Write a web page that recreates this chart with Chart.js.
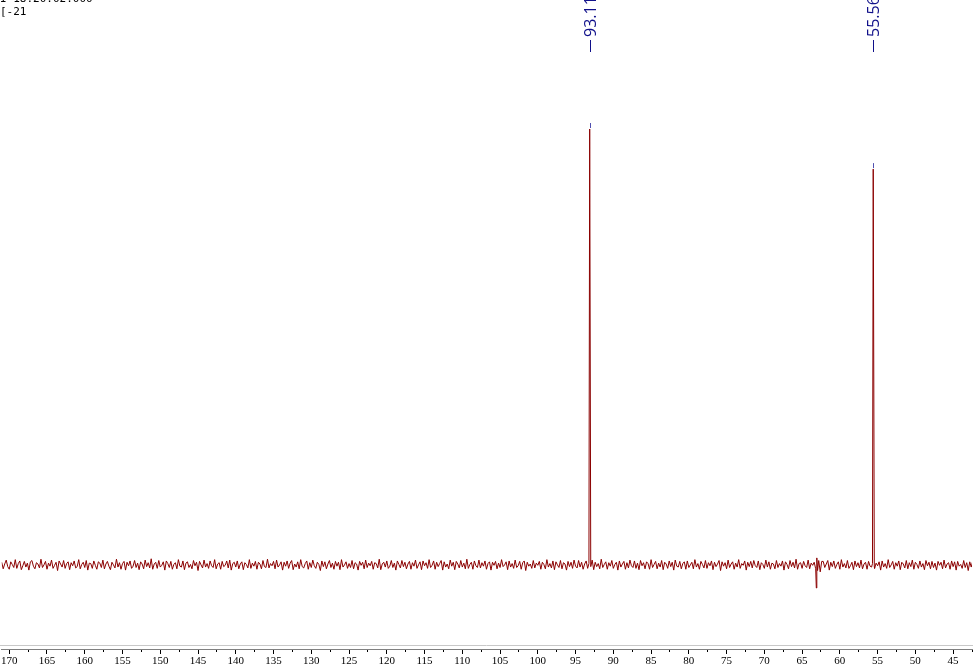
<!DOCTYPE html>
<html>
<head>
<meta charset="utf-8">
<script src="https://cdn.jsdelivr.net/npm/chart.js@4/dist/chart.umd.min.js"></script>
<style>
  html, body { margin: 0; padding: 0; background: #fff; overflow: hidden; }
  #wrap { position: relative; width: 973px; height: 669px; }
  #info { position: absolute; left: 0; top: -8px; font: 11px "DejaVu Sans Mono", monospace; color: #000; line-height: 13px; white-space: pre; }
</style>
</head>
<body>
<div id="wrap">
  <canvas id="nmr"></canvas>
  <div id="info">I-18.20.02.000
[-21</div>
</div>
<script>
// spectrum sampling (ppm) for the baseline noise
const ppmStart = 171.0;
const ppmStep = 0.2;

// baseline noise (intensity units, 93.11 peak = 100)
const baseline = [
  0.6,-0.9,0.2,1.1,-0.4,-1.0,0.7,0.1,-0.6,1.2,-0.8,0.3,0.9,-1.1,-0.2,0.8,-0.5,0.4,-1.2,0.7,
  1.0,-0.3,-0.9,0.5,0.2,-0.7,1.3,-0.6,0.0,0.8,-1.0,0.4,-0.3,1.1,-0.8,-0.1,0.6,-1.3,0.9,0.2,
  -0.5,1.0,-0.8,0.3,0.7,-1.1,0.5,-0.2,0.9,-0.7,-0.4,1.2,-0.9,0.1,0.6,-0.6,1.0,-1.2,0.4,0.3,
  -0.8,0.9,-0.1,-1.0,0.7,0.4,-0.6,1.1,-0.9,0.2,0.8,-0.3,-1.1,0.6,0.0,-0.7,1.3,-0.5,0.5,-1.0,
  0.3,0.8,-1.2,0.6,-0.2,0.9,-0.8,-0.3,1.0,-0.6,0.4,-1.1,0.7,0.2,-0.9,1.1,-0.4,0.5,-0.7,1.4,
  -1.0,0.2,0.6,-0.8,1.0,-0.5,-0.1,0.7,-1.2,0.9,0.3,-0.6,0.8,-1.0,0.1,0.5,-0.9,1.2,-0.3,-0.5,
  0.9,-1.1,0.4,0.7,-0.6,0.1,-0.9,1.0,-0.2,0.6,-1.3,0.8,0.0,-0.7,1.1,-0.5,0.3,-0.8,0.9,-0.2,
  -0.6,1.2,-0.9,0.2,0.5,-1.0,0.8,-0.4,-0.1,0.9,-0.7,1.1,-1.2,0.3,0.6,-0.5,0.9,-0.9,0.2,0.7,
  -1.1,0.5,0.1,-0.7,1.2,-0.8,0.4,-0.3,0.8,-1.0,0.6,0.2,-0.9,1.0,-0.4,-0.6,1.3,-0.7,0.3,-0.2,
  0.8,-0.9,1.1,-0.5,0.0,0.7,-1.2,0.6,-0.3,0.9,-0.8,0.4,1.0,-1.1,0.2,-0.5,0.7,-0.9,1.2,-0.4,
  -0.7,0.3,0.9,-1.0,0.5,-0.6,1.1,-0.2,-0.8,0.6,0.1,-1.3,0.9,-0.4,0.7,-0.9,0.2,1.0,-0.6,0.4,
  -1.0,0.8,-0.3,0.6,-1.1,1.2,-0.5,0.0,0.7,-0.8,0.3,-0.6,1.0,-0.9,0.5,0.2,-1.2,0.8,-0.1,0.6,
  -0.9,1.1,-0.6,0.4,-0.2,0.8,-1.0,0.5,0.3,-0.7,1.3,-1.1,0.2,0.6,-0.5,0.9,-0.8,-0.3,1.0,-0.6,
  0.4,-1.2,0.9,0.1,-0.7,1.0,-0.4,0.6,-0.9,0.2,0.8,-1.0,0.5,-0.3,1.1,-0.8,0.0,0.7,-1.1,0.9,
  -0.2,0.5,-0.8,1.2,-0.6,-0.1,0.9,-1.0,0.6,-0.4,0.3,1.0,-1.2,0.7,-0.5,0.2,-0.9,1.1,-0.3,0.6,
  -1.1,0.8,0.2,-0.7,1.0,-0.5,0.4,-0.9,1.3,-0.8,0.1,0.6,-1.0,0.9,-0.2,-0.6,1.1,-0.7,0.5,-0.3,
  0.9,-1.0,0.3,0.7,-1.2,0.6,-0.1,0.8,-0.9,0.4,-0.6,1.2,-0.4,0.0,0.7,-1.1,0.9,-0.5,0.3,-0.8,
  1.1,-0.6,-0.2,0.8,-1.0,0.5,0.9,-1.3,0.6,-0.3,0.2,-0.8,1.0,-0.7,0.4,-0.1,0.8,-1.0,0.6,0.1,
  -0.9,1.2,-0.5,0.3,-0.7,0.9,-1.1,0.7,0.0,-0.6,1.0,-0.9,0.5,0.2,-1.2,0.8,-0.4,0.6,-0.8,1.1,
  -0.3,-0.7,1.0,-0.5,0.6,-1.0,0.2,0.9,-0.8,0.4,-0.2,1.1,-1.1,0.6,-0.4,0.3,-0.9,1.3,-0.6,0.1,
  0.7,-1.0,0.5,-0.3,1.0,-0.8,0.1,0.6,-1.2,0.9,-0.5,0.2,0.8,-1.0,0.5,-0.7,1.1,-0.2,-0.6,0.9,
  -0.8,0.4,-1.1,1.0,-0.2,0.5,-0.9,0.7,0.3,-1.0,1.2,-0.6,0.1,0.8,-0.9,0.4,-0.5,1.0,-1.1,0.6,
  0.2,-0.8,0.9,-0.4,0.6,-1.2,1.1,-0.3,-0.5,0.8,-0.9,0.3,0.7,-1.0,0.9,-0.6,0.0,0.6,-0.9,1.2,
  -0.5,0.3,-1.0,0.8,0.1,-0.7,1.0,-0.8,0.5,-0.2,0.9,-1.1,0.6,-0.4,0.2,1.0,-1.3,0.7,-0.3,0.5,
  -0.9,1.1,-0.6,0.2,0.7,-1.0,0.4,-0.5,1.2,-0.8,0.3,-0.1,0.9,-1.2,0.6,-0.4,0.8,-0.7,1.0,-0.2,
  -0.6,0.9,-1.1,0.5,0.1,-0.8,1.1,-0.5,0.7,-1.0,0.4,0.2,-0.9,1.0,-0.6,0.3,-0.3,0.9,-1.2,0.7,
  0.1,-0.9,1.0,-0.4,0.6,-0.7,1.3,-1.0,0.3,0.5,-0.8,0.8,-0.2,-0.6,1.1,-0.9,0.4,-0.1,0.7,-1.1,
  0.9,-0.3,0.5,-1.0,0.8,-0.6,0.2,1.0,-1.2,0.6,-0.4,0.9,-0.8,0.1,0.7,-1.0,1.2,-0.5,0.3,-0.7,
  1.0,-0.8,-0.2,0.6,-1.1,0.9,-0.4,0.5,-0.7,1.1,-0.9,0.2,0.6,-1.0,0.8,-0.3,-0.5,1.0,-0.8,0.4,
  -0.2,0.7,-1.2,0.9,-0.5,0.3,-0.8,1.2,-0.6,0.0,0.8,-1.0,0.5,-0.3,0.9,-1.1,0.6,0.2,-0.7,1.0,
  -0.9,0.5,-0.4,1.1,-1.0,0.6,0.1,-0.8,0.9,-0.5,0.3,-1.1,1.0,-0.2,0.6,-0.9,0.8,-0.6,0.4,-1.2,
  0.8,-0.1,0.6,-0.9,1.1,-0.7,0.2,0.5,-1.0,0.9,-0.4,0.7,-1.2,0.8,-0.3,0.1,-0.8,1.0,-0.6,0.5,
  -1.3,0.7,-0.5,0.9,-0.8,0.2,0.6,-1.1,1.0,-0.4,0.3,-0.9,0.8,-0.6,1.1,-1.0,0.4,-0.2,0.7,-0.9
];

// picked peaks
const peakPpm = [93.11, 55.56];
const peakHeight = [100, 90.8];
const peakLabels = ['93.11', '55.56'];

// small dispersive artefact near 63 ppm
const artefactPpm = [63.4, 63.2, 63.12, 63.05, 62.95, 62.8, 62.6, 62.4];
const artefactVal = [0.6, -0.9, -5.3, 1.6, -1.3, 1.0, -1.6, 0.8];

// build point list sorted by ppm; grid points inside a peak or artefact window are replaced
const inWindow = (x) =>
  (x <= artefactPpm[0] + 0.05 && x >= artefactPpm[artefactPpm.length - 1] - 0.05) ||
  peakPpm.some((p) => Math.abs(x - p) < 0.15);
const points = baseline
  .map((v, i) => ({ x: +(ppmStart - i * ppmStep).toFixed(2), y: v }))
  .filter((pt) => !inWindow(pt.x));
peakPpm.forEach((p, i) => {
  points.push({ x: p + 0.12, y: 0.3 }, { x: p + 0.02, y: peakHeight[i] }, { x: p - 0.02, y: peakHeight[i] }, { x: p - 0.12, y: -0.4 });
});
artefactPpm.forEach((p, i) => points.push({ x: p, y: artefactVal[i] }));
points.sort((a, b) => b.x - a.x);

const peakLabelPlugin = {
  id: 'peakLabels',
  afterDraw(chart) {
    const ctx = chart.ctx;
    const xs = chart.scales.x, ys = chart.scales.y;
    ctx.save();
    // light frame line above the axis
    ctx.strokeStyle = '#c8c8c8';
    ctx.lineWidth = 1;
    ctx.beginPath();
    ctx.moveTo(0, chart.chartArea.bottom - 3.5);
    ctx.lineTo(chart.width, chart.chartArea.bottom - 3.5);
    ctx.stroke();

    peakPpm.forEach((p, i) => {
      const px = Math.round(xs.getPixelForValue(p)) + 0.5;
      const top = ys.getPixelForValue(peakHeight[i]);
      // peak pick marker
      ctx.strokeStyle = '#5050b0';
      ctx.beginPath();
      ctx.moveTo(px, top - 6);
      ctx.lineTo(px, top - 1);
      ctx.stroke();
      // leader dash
      ctx.strokeStyle = '#10108a';
      ctx.beginPath();
      ctx.moveTo(px, 52);
      ctx.lineTo(px, 40);
      ctx.stroke();
      // rotated label
      ctx.translate(px, 37);
      ctx.rotate(-Math.PI / 2);
      ctx.fillStyle = '#10108a';
      ctx.font = '16px "Open Sans", "Noto Sans", sans-serif';
      ctx.textAlign = 'left';
      ctx.textBaseline = 'middle';
      ctx.fillText(peakLabels[i], 0, 1);
      ctx.setTransform(1, 0, 0, 1, 0, 0);
    });
    ctx.restore();
  }
};

new Chart(document.getElementById('nmr').getContext('2d'), {
  type: 'line',
  data: {
    datasets: [{
      data: points,
      borderColor: '#8b0000',
      borderWidth: 1,
      pointRadius: 0,
      tension: 0
    }]
  },
  options: {
    responsive: true,
    maintainAspectRatio: false,
    animation: false,
    layout: { padding: 0 },
    plugins: { legend: { display: false }, tooltip: { enabled: false } },
    scales: {
      x: {
        type: 'linear',
        reverse: true,
        min: 42.5,
        max: 171.0,
        afterFit: (scale) => { scale.height = 20; },
        border: { display: true, color: '#808080' },
        grid: {
          drawOnChartArea: false,
          tickLength: 5,
          tickColor: '#000',
          tickBorderDash: (ctx) => (ctx.tick && ctx.tick.value % 5 !== 0 ? [2, 10] : [])
        },
        ticks: {
          stepSize: 2.5,
          includeBounds: false,
          autoSkip: false,
          maxRotation: 0,
          padding: 1,
          color: '#000',
          font: { family: '"Liberation Serif", serif', size: 11 },
          callback: (v) => (v % 5 === 0 ? String(v) : '')
        }
      },
      y: {
        display: false,
        min: -19.3,
        max: 129.6
      }
    }
  },
  plugins: [peakLabelPlugin]
});
</script>
</body>
</html>
